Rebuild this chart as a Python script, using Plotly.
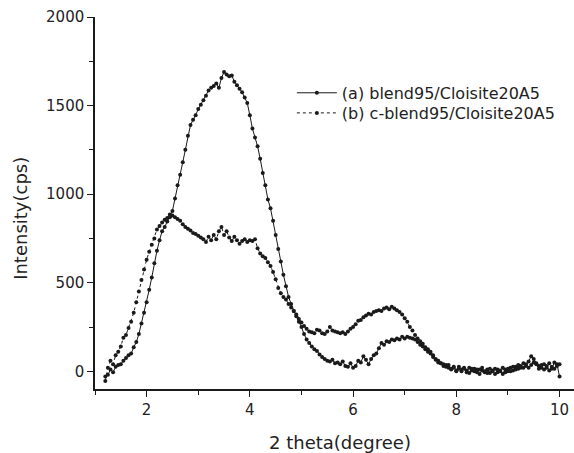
import numpy as np
import plotly.graph_objects as go

# scan angles (2 theta, degree): 1.20 ... 10.00 in 0.05 steps
two_theta = np.round(np.arange(1.20, 10.0001, 0.05), 2)

series_a_name = "(a) blend95/Cloisite20A5"
series_a = [
    -30, -20, 10, -5, 25, 35, 40, 60, 75, 90,
    100, 135, 165, 210, 270, 330, 390, 460, 530, 610,
    680, 740, 790, 815, 845, 870, 905, 975, 1050, 1110,
    1180, 1250, 1330, 1390, 1420, 1445, 1480, 1505, 1530, 1555,
    1585, 1600, 1610, 1625, 1600, 1655, 1690, 1675, 1665, 1670,
    1635, 1615, 1595, 1575, 1545, 1515, 1445, 1370, 1320, 1270,
    1200, 1120, 1050, 970, 920, 850, 770, 690, 620, 545,
    480, 420, 380, 340, 310, 280, 250, 210, 180, 160,
    140, 125, 115, 95, 80, 70, 60, 55, 65, 45,
    50, 40, 55, 30, 25, 45, 20, 30, 60, 50,
    85, 65, 40, 70, 90, 100, 130, 160, 150, 170,
    165, 180, 175, 185, 180, 195, 185, 195, 190, 185,
    180, 165, 150, 140, 125, 110, 100, 80, 65, 50,
    45, 30, 35, 20, 10, 25, 5, 15, 0, 20,
    5, -10, 15, 0, 10, -15, 5, -5, 10, -10,
    0, 15, -5, 5, -15, 10, 0, 20, 5, 25,
    15, 30, 20, 40, 55, 85, 70, 45, 30, 20,
    10, 30, 5, 25, 15, 40, -30,
]

series_b_name = "(b) c-blend95/Cloisite20A5"
series_b = [
    -55, 20, 60, 40, 90, 110, 140, 190, 205, 245,
    280, 330, 390, 450, 515, 575, 630, 675, 715, 750,
    800, 820, 840, 855, 865, 885, 880, 870, 860, 850,
    830, 815, 805, 795, 780, 775, 765, 755, 745, 730,
    760, 740, 770, 745, 790, 815, 770, 790, 755, 735,
    760, 740, 720, 735, 745, 730, 740, 735, 745, 695,
    665, 650, 640, 615, 595, 560, 520, 470, 440, 420,
    405, 380, 360, 340, 320, 295, 275, 255, 240, 225,
    220, 215, 235, 230, 215, 210, 225, 250, 230, 225,
    220, 215, 220, 210, 225, 240, 250, 265, 285, 290,
    305, 315, 325, 320, 335, 340, 345, 340, 355, 360,
    350, 365, 355, 345, 335, 320, 300, 280, 250, 230,
    205, 185, 170, 155, 135, 125, 110, 90, 70, 60,
    45, 40, 25, 35, 15, 20, 0, 25, 10, 15,
    -5, 20, 5, 15, -5, 10, 20, 0, -10, 15,
    5, -15, 10, 0, 20, -5, 15, 0, 25, 10,
    35, 20, 45, 30, 20, 35, 50, 40, 15, 35,
    40, 20, 45, 15, 50, 30, 40,
]

x_title = "2 theta(degree)"
y_title = "Intensity(cps)"
x_ticks = [2, 4, 6, 8, 10]
y_ticks = [0, 500, 1000, 1500, 2000]

font_family = "DejaVu Sans, Liberation Sans, Arial, sans-serif"
ink = "#1a1a1a"
text_col = "#222222"

fig = go.Figure()
fig.add_trace(go.Scatter(
    x=two_theta, y=series_a, name=series_a_name, mode="lines+markers",
    line=dict(color=ink, width=1, dash="solid"),
    marker=dict(color=ink, size=4, symbol="circle"),
    legend="legend",
))
fig.add_trace(go.Scatter(
    x=two_theta, y=series_b, name=series_b_name, mode="lines+markers",
    line=dict(color=ink, width=1, dash="dot"),
    marker=dict(color=ink, size=4, symbol="circle"),
    legend="legend2",
))

axis_common = dict(
    showgrid=False, zeroline=False, showline=True, linecolor=ink, linewidth=1.5,
    ticks="outside", ticklen=6, tickwidth=1.3, tickcolor=ink,
    tickfont=dict(family=font_family, size=15, color=text_col),
    mirror=False, automargin=False,
)

fig.update_xaxes(
    **axis_common,
    range=[1, 10.28], tickvals=x_ticks,
    minor=dict(dtick=1, tick0=1, ticks="outside", ticklen=4, tickwidth=1.2, tickcolor=ink),
)
fig.update_yaxes(
    **axis_common,
    range=[-100, 2000], tickvals=y_ticks,
    minor=dict(dtick=250, tick0=0, ticks="outside", ticklen=4, tickwidth=1.2, tickcolor=ink),
)

legend_common = dict(
    xanchor="left", yanchor="middle",
    bgcolor="rgba(0,0,0,0)", borderwidth=0,
    font=dict(family=font_family, size=16, color=text_col),
    itemwidth=40,
)

fig.update_layout(
    width=574, height=453,
    margin=dict(l=95, r=0, t=17, b=64),
    paper_bgcolor="white", plot_bgcolor="white",
    showlegend=True,
    legend=dict(x=0.411, y=0.796, **legend_common),
    legend2=dict(x=0.411, y=0.742, **legend_common),
    annotations=[
        dict(text=y_title, xref="paper", yref="paper", x=-0.1545, y=0.46,
             xanchor="center", yanchor="middle", textangle=-90, showarrow=False,
             font=dict(family=font_family, size=18, color=text_col)),
        dict(text=x_title, xref="paper", yref="paper", x=0.5115, y=-0.1425,
             xanchor="center", yanchor="middle", showarrow=False,
             font=dict(family=font_family, size=18, color=text_col)),
    ],
)

fig.write_html(
    "out.html",
    config={"displayModeBar": False},
    post_script="document.body.style.margin='0';document.body.style.overflow='hidden';",
)
